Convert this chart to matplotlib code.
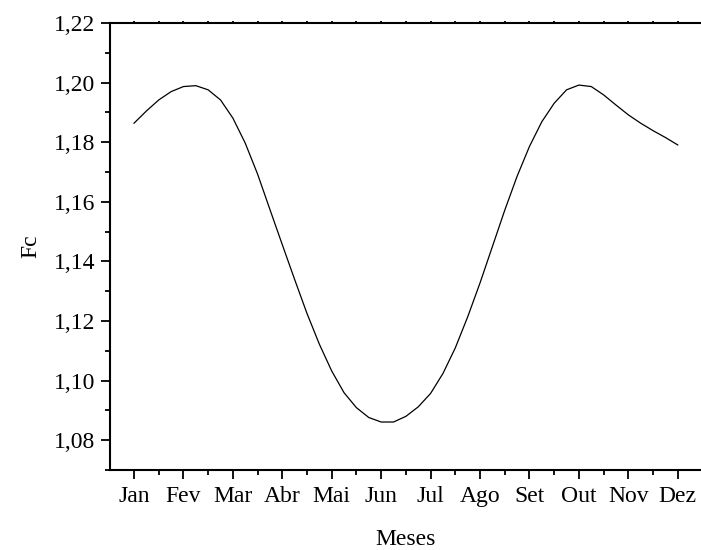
import matplotlib
matplotlib.use('Agg')
import matplotlib.pyplot as plt
from matplotlib.ticker import MultipleLocator, FuncFormatter

# month positions (1 = Jan) read at quarter-month steps
mes = [1.0, 1.25, 1.5, 1.75, 2.0, 2.25, 2.5, 2.75, 3.0, 3.25, 3.5, 3.75,
       4.0, 4.25, 4.5, 4.75, 5.0, 5.25, 5.5, 5.75, 6.0, 6.25, 6.5, 6.75,
       7.0, 7.25, 7.5, 7.75, 8.0, 8.25, 8.5, 8.75, 9.0, 9.25, 9.5, 9.75,
       10.0, 10.25, 10.5, 10.75, 11.0, 11.25, 11.5, 11.75, 12.0]
fc = [1.1864, 1.1905, 1.1942, 1.1970, 1.1987, 1.1990, 1.1976, 1.1942,
      1.1881, 1.1797, 1.1693, 1.1574, 1.1456, 1.1339, 1.1225, 1.1122,
      1.1032, 1.0959, 1.0909, 1.0876, 1.0861, 1.0861, 1.0880, 1.0912,
      1.0957, 1.1024, 1.1110, 1.1214, 1.1328, 1.1450, 1.1572, 1.1686,
      1.1786, 1.1869, 1.1931, 1.1976, 1.1992, 1.1987, 1.1959, 1.1925,
      1.1892, 1.1864, 1.1839, 1.1816, 1.1791]
meses_labels = ['Jan', 'Fev', 'Mar', 'Abr', 'Mai', 'Jun',
                'Jul', 'Ago', 'Set', 'Out', 'Nov', 'Dez']

plt.rcParams['font.family'] = ['Liberation Serif', 'DejaVu Serif']

fig = plt.figure(figsize=(7.01, 5.5), dpi=100)
ax = fig.add_axes([0.157, 0.1455, 0.843, 0.8125])

ax.plot(mes, fc, color='black', lw=0.9)

ax.set_xlim(0.515, 12.47)
ax.set_ylim(1.07, 1.22)
ax.set_xticks(range(1, 13))
ax.set_xticklabels(meses_labels)
ax.xaxis.set_minor_locator(MultipleLocator(0.5))
ax.yaxis.set_major_locator(MultipleLocator(0.02))
ax.yaxis.set_minor_locator(MultipleLocator(0.01))
ax.yaxis.set_major_formatter(FuncFormatter(lambda v, p: f'{v:.2f}'.replace('.', ',')))

ax.spines['right'].set_visible(False)
for s in ['left', 'bottom', 'top']:
    ax.spines[s].set_linewidth(1.5)

ax.tick_params(axis='both', which='major', direction='out', length=6.5, width=1.3,
               labelsize=17, pad=4)
ax.tick_params(axis='both', which='minor', direction='out', length=3.5, width=1.3)
ax.tick_params(axis='x', which='major', pad=5)
ax.tick_params(axis='x', which='both', top=True, labeltop=False)
# tiny marks on the top line
for t in ax.xaxis.get_ticklines(minor=False)[1::2] + ax.xaxis.get_ticklines(minor=True)[1::2]:
    t.set_markersize(1.5)

ax.set_xlabel('Meses', fontsize=17, labelpad=16)
ax.set_ylabel('Fc', fontsize=17, labelpad=9)

fig.savefig('out.png', dpi=100)
